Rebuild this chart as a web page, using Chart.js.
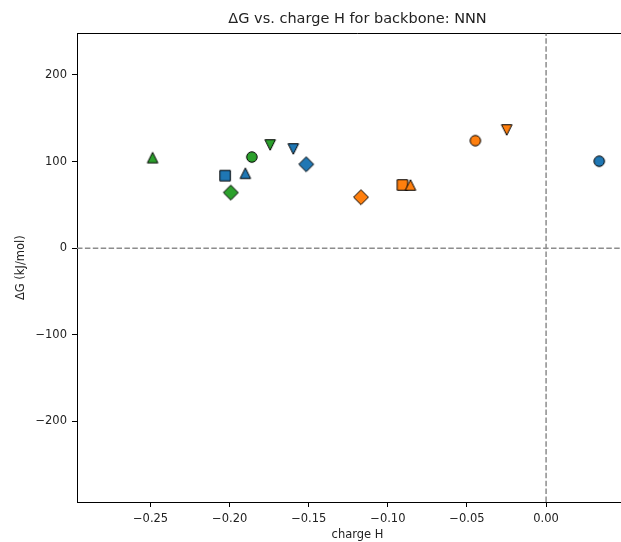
<!DOCTYPE html>
<html><head><meta charset="utf-8">
<script src="https://cdn.jsdelivr.net/npm/chart.js@4/dist/chart.umd.min.js"></script>
<style>html,body{margin:0;padding:0;background:#fff;overflow:hidden}#wrap{width:621px;height:542px;position:relative;overflow:hidden}#c{display:block}</style>
</head><body><div id="wrap"><canvas id="c" width="645" height="542" style="width:645px;height:542px"></canvas></div>
<script>
// ---- data ----
const blueMarkers   = ['circle', 'square', 'triangleUp', 'triangleDown', 'diamond'];
const blueX         = [0.0336, -0.2029, -0.1901, -0.1598, -0.1516];
const blueY         = [100.4, 83.8, 86.6, 114.6, 96.9];

const orangeMarkers = ['circle', 'square', 'triangleUp', 'triangleDown', 'diamond'];
const orangeX       = [-0.0447, -0.0908, -0.0857, -0.0249, -0.1170];
const orangeY       = [124.2, 73.0, 73.0, 136.5, 58.9];

const greenMarkers  = ['circle', 'triangleUp', 'triangleDown', 'diamond'];
const greenX        = [-0.1860, -0.2487, -0.1744, -0.1993];
const greenY        = [105.3, 104.6, 119.2, 64.2];

const xTicks      = [-0.25, -0.20, -0.15, -0.10, -0.05, 0.00];
const xTickLabels = ['\u22120.25', '\u22120.20', '\u22120.15', '\u22120.10', '\u22120.05', '0.00'];
const yTicks      = [-200, -100, 0, 100, 200];
const yTickLabels = ['\u2212200', '\u2212100', '0', '100', '200'];
const xLimits = [-0.2965, 0.0581];
const yLimits = [-293, 248];
const refLineX = 0, refLineY = 0;

const titleText  = '\u0394G vs. charge H for backbone: NNN';
const xTitleText = 'charge H';
const yTitleText = '\u0394G (kJ/mol)';

// ---- styling ----
const COLORS = { blue: '#1f77b4', orange: '#ff7f0e', green: '#2ca02c' };
const FONT = 'DejaVu Sans';

function makeMarker(shape, color) {
  const S = 22, o = S / 2, m = 10.5, h = m / 2;
  const c = document.createElement('canvas');
  c.width = S; c.height = S;
  const g = c.getContext('2d');
  g.beginPath();
  if (shape === 'circle') g.arc(o, o, h, 0, Math.PI * 2);
  else if (shape === 'square') g.rect(o - h, o - h, m, m);
  else if (shape === 'triangleUp') { g.moveTo(o, o - h); g.lineTo(o + h, o + h); g.lineTo(o - h, o + h); g.closePath(); }
  else if (shape === 'triangleDown') { g.moveTo(o, o + h); g.lineTo(o + h, o - h); g.lineTo(o - h, o - h); g.closePath(); }
  else if (shape === 'diamond') { const d = h * Math.SQRT2; g.moveTo(o, o - d); g.lineTo(o + d, o); g.lineTo(o, o + d); g.lineTo(o - d, o); g.closePath(); }
  g.fillStyle = color; g.fill();
  g.lineWidth = 1; g.strokeStyle = '#000'; g.stroke();
  return c;
}

function ds(label, xs, ys, markers, color) {
  return {
    label,
    data: xs.map((x, i) => ({ x, y: ys[i] })),
    pointStyle: markers.map(s => makeMarker(s, color)),
    pointRadius: 6,
    showLine: false
  };
}

const frameAndZeroLines = {
  id: 'frameAndZeroLines',
  beforeDatasetsDraw(chart) {
    const { ctx, chartArea: a, scales: { x, y } } = chart;
    const px = x.getPixelForValue(refLineX), py = y.getPixelForValue(refLineY);
    ctx.save();
    // top and right spines
    ctx.strokeStyle = '#000'; ctx.lineWidth = 1;
    const ty = Math.floor(a.top) + 0.5, rx = Math.floor(a.right) - 0.5;
    ctx.beginPath(); ctx.moveTo(a.left, ty); ctx.lineTo(rx, ty); ctx.lineTo(rx, a.bottom); ctx.stroke();
    // dashed reference lines
    ctx.beginPath(); ctx.rect(a.left, a.top, a.width, a.height); ctx.clip();
    ctx.strokeStyle = '#8c8c8c'; ctx.lineWidth = 1.5; ctx.setLineDash([5.5, 2.4]);
    ctx.beginPath(); ctx.moveTo(px, a.bottom); ctx.lineTo(px, a.top); ctx.stroke();
    ctx.beginPath(); ctx.moveTo(a.left, py); ctx.lineTo(a.right, py); ctx.stroke();
    ctx.restore();
  }
};

Chart.defaults.font.family = FONT;
Chart.defaults.color = '#222';

new Chart(document.getElementById('c'), {
  type: 'scatter',
  data: { datasets: [
    ds('blue', blueX, blueY, blueMarkers, COLORS.blue),
    ds('orange', orangeX, orangeY, orangeMarkers, COLORS.orange),
    ds('green', greenX, greenY, greenMarkers, COLORS.green)
  ] },
  plugins: [frameAndZeroLines],
  options: {
    responsive: false, animation: false,
    events: [],
    layout: { padding: 0 },
    plugins: {
      legend: { display: false }, tooltip: { enabled: false },
      title: { display: true, text: titleText, fullSize: false, color: '#222',
        font: { family: FONT, size: 14.5, weight: 'normal' }, padding: { top: 11, bottom: 5 } }
    },
    scales: {
      x: {
        type: 'linear', position: 'bottom', min: xLimits[0], max: xLimits[1],
        afterBuildTicks: ax => { ax.ticks = xTicks.map(v => ({ value: v })); },
        afterFit: ax => { ax.height = 40; ax.paddingLeft = 0; ax.paddingRight = 0; },
        ticks: { callback: (v, i) => xTickLabels[i], font: { size: 11.5 }, color: '#222', padding: 5, maxRotation: 0, autoSkip: false },
        grid: { drawOnChartArea: false, drawTicks: true, tickLength: 5, tickColor: '#000' },
        border: { display: true, color: '#000', width: 1 },
        title: { display: true, text: xTitleText, font: { size: 11.5, lineHeight: 1 }, color: '#222', padding: { top: 0, bottom: 1 } }
      },
      y: {
        type: 'linear', position: 'left', min: yLimits[0], max: yLimits[1],
        afterBuildTicks: ax => { ax.ticks = yTicks.map(v => ({ value: v })); },
        afterFit: ax => { ax.width = 77; },
        ticks: { callback: (v, i) => yTickLabels[i], font: { size: 11.5 }, color: '#222', padding: 5 },
        grid: { drawOnChartArea: false, drawTicks: true, tickLength: 5, tickColor: '#000' },
        border: { display: true, color: '#000', width: 1 },
        title: { display: true, text: yTitleText, font: { size: 11.5 }, color: '#222', padding: { top: 14, bottom: 0 } }
      }
    }
  }
});
</script></body></html>
